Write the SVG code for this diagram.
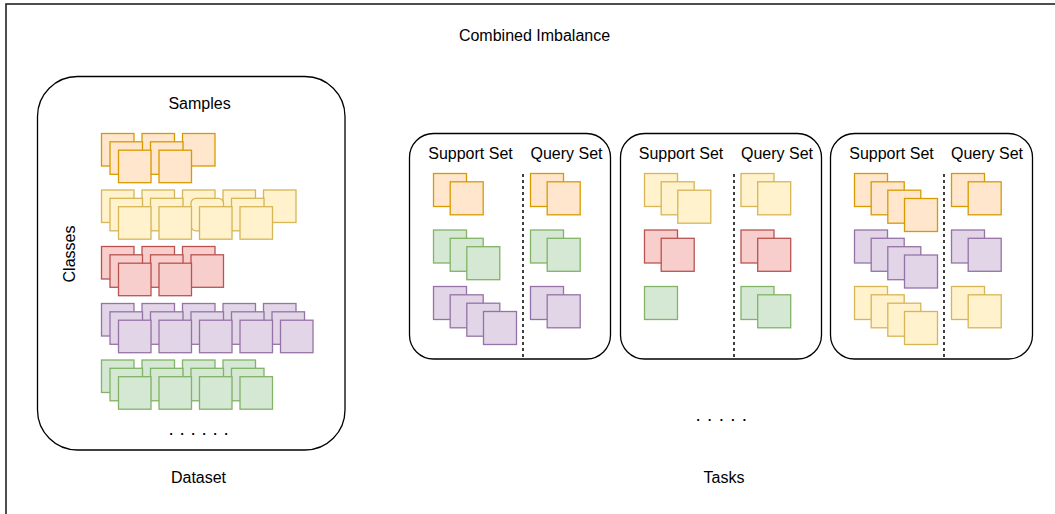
<svg xmlns="http://www.w3.org/2000/svg" width="1055" height="514" viewBox="0 0 1055 514">
<style>
text{font-family:"Liberation Sans",Arial,sans-serif;font-size:16px;fill:#000}
.c{text-anchor:middle}
.dots{font-size:19px}
.box{fill:#fff;stroke:#000;stroke-width:1.3}
.dash{stroke:#000;stroke-width:1.5;stroke-dasharray:3 3;fill:none}
rect.o{fill:#ffe6cc;stroke:#d79b00;stroke-width:1.3}
rect.y{fill:#fff2cc;stroke:#d6b656;stroke-width:1.3}
rect.r{fill:#f8cecc;stroke:#b85450;stroke-width:1.3}
rect.p{fill:#e1d5e7;stroke:#9673a6;stroke-width:1.3}
rect.g{fill:#d5e8d4;stroke:#82b366;stroke-width:1.3}
</style>
<rect width="1055" height="514" fill="#fff"/>
<rect id="frame" x="6" y="4" width="1100" height="560" fill="none" stroke="#222" stroke-width="1.6"/>
<text class="c" x="534.5" y="41">Combined Imbalance</text>

<g id="dataset">
<rect class="box" x="37.5" y="76.5" width="307.5" height="373.5" rx="40"/>
<text class="c" x="199.5" y="109">Samples</text>
<text class="c" transform="translate(75,254) rotate(-90)">Classes</text>
<text class="dots" x="168.5" y="435" style="letter-spacing:5.7px">......</text>
<g id="orange-row">
<rect class="o" x="101.5" y="133.5" width="32.5" height="32.5"/><rect class="o" x="142" y="133.5" width="32.5" height="32.5"/><rect class="o" x="182.5" y="133.5" width="32.5" height="32.5"/>
<rect class="o" x="110" y="141.8" width="32.5" height="32.5"/><rect class="o" x="150.5" y="141.8" width="32.5" height="32.5"/>
<rect class="o" x="118.5" y="150.2" width="32.5" height="32.5"/><rect class="o" x="159" y="150.2" width="32.5" height="32.5"/>
</g>
<g id="yellow-row">
<rect class="y" x="101.5" y="190" width="32.5" height="32.5"/><rect class="y" x="142" y="190" width="32.5" height="32.5"/><rect class="y" x="182.5" y="190" width="32.5" height="32.5"/><rect class="y" x="223" y="190" width="32.5" height="32.5"/><rect class="y" x="263.5" y="190" width="32.5" height="32.5"/>
<rect class="y" x="110" y="198.3" width="32.5" height="32.5"/><rect class="y" x="150.5" y="198.3" width="32.5" height="32.5"/><rect class="y" x="191" y="198.3" width="32.5" height="32.5" rx="5"/><rect class="y" x="231.5" y="198.3" width="32.5" height="32.5"/>
<rect class="y" x="118.5" y="206.7" width="32.5" height="32.5"/><rect class="y" x="159" y="206.7" width="32.5" height="32.5"/><rect class="y" x="199.5" y="206.7" width="32.5" height="32.5"/><rect class="y" x="240" y="206.7" width="32.5" height="32.5"/>
</g>
<g id="red-row">
<rect class="r" x="101.5" y="246.5" width="32.5" height="32.5"/><rect class="r" x="142" y="246.5" width="32.5" height="32.5"/><rect class="r" x="182.5" y="246.5" width="32.5" height="32.5"/>
<rect class="r" x="110" y="254.8" width="32.5" height="32.5"/><rect class="r" x="150.5" y="254.8" width="32.5" height="32.5"/><rect class="r" x="191" y="254.8" width="32.5" height="32.5"/>
<rect class="r" x="118.5" y="263.2" width="32.5" height="32.5"/><rect class="r" x="159" y="263.2" width="32.5" height="32.5"/>
</g>
<g id="purple-row">
<rect class="p" x="101.5" y="303.5" width="32.5" height="32.5"/><rect class="p" x="142" y="303.5" width="32.5" height="32.5"/><rect class="p" x="182.5" y="303.5" width="32.5" height="32.5"/><rect class="p" x="223" y="303.5" width="32.5" height="32.5"/><rect class="p" x="263.5" y="303.5" width="32.5" height="32.5"/>
<rect class="p" x="110" y="311.8" width="32.5" height="32.5"/><rect class="p" x="150.5" y="311.8" width="32.5" height="32.5"/><rect class="p" x="191" y="311.8" width="32.5" height="32.5"/><rect class="p" x="231.5" y="311.8" width="32.5" height="32.5"/><rect class="p" x="272" y="311.8" width="32.5" height="32.5"/>
<rect class="p" x="118.5" y="320.2" width="32.5" height="32.5"/><rect class="p" x="159" y="320.2" width="32.5" height="32.5"/><rect class="p" x="199.5" y="320.2" width="32.5" height="32.5"/><rect class="p" x="240" y="320.2" width="32.5" height="32.5"/><rect class="p" x="280.5" y="320.2" width="32.5" height="32.5"/>
</g>
<g id="green-row">
<rect class="g" x="101.5" y="360" width="32.5" height="32.5"/><rect class="g" x="142" y="360" width="32.5" height="32.5"/><rect class="g" x="182.5" y="360" width="32.5" height="32.5"/><rect class="g" x="223" y="360" width="32.5" height="32.5"/>
<rect class="g" x="110" y="368.3" width="32.5" height="32.5"/><rect class="g" x="150.5" y="368.3" width="32.5" height="32.5"/><rect class="g" x="191" y="368.3" width="32.5" height="32.5"/><rect class="g" x="231.5" y="368.3" width="32.5" height="32.5"/>
<rect class="g" x="118.5" y="376.7" width="32.5" height="32.5"/><rect class="g" x="159" y="376.7" width="32.5" height="32.5"/><rect class="g" x="199.5" y="376.7" width="32.5" height="32.5"/><rect class="g" x="240" y="376.7" width="32.5" height="32.5"/>
</g>
</g>
<text class="c" x="198.5" y="483">Dataset</text>

<g id="task1">
<rect class="box" x="409.5" y="133.5" width="201" height="225.5" rx="24"/>
<text class="c" x="470.5" y="159">Support Set</text>
<text class="c" x="566.5" y="159">Query Set</text>
<rect class="o" x="433.5" y="173.5" width="33" height="33"/><rect class="o" x="450.2" y="181.8" width="33" height="33"/>
<rect class="g" x="433.5" y="230" width="33" height="33"/><rect class="g" x="450.2" y="238.3" width="33" height="33"/><rect class="g" x="466.8" y="246.7" width="33" height="33"/>
<rect class="p" x="433.5" y="286.5" width="33" height="33"/><rect class="p" x="450.2" y="294.8" width="33" height="33"/><rect class="p" x="466.8" y="303.2" width="33" height="33"/><rect class="p" x="483.5" y="311.5" width="33" height="33"/>
<rect class="o" x="530.5" y="173.5" width="33" height="33"/><rect class="o" x="547.2" y="181.8" width="33" height="33"/>
<rect class="g" x="530.5" y="230" width="33" height="33"/><rect class="g" x="547.2" y="238.3" width="33" height="33"/>
<rect class="p" x="530.5" y="286.5" width="33" height="33"/><rect class="p" x="547.2" y="294.8" width="33" height="33"/>
</g>

<g id="task2">
<rect class="box" x="620.5" y="133.5" width="201" height="225.5" rx="24"/>
<text class="c" x="681" y="159">Support Set</text>
<text class="c" x="777" y="159">Query Set</text>
<rect class="y" x="644.5" y="173.5" width="33" height="33"/><rect class="y" x="661.2" y="181.8" width="33" height="33"/><rect class="y" x="677.8" y="190.2" width="33" height="33"/>
<rect class="r" x="644.5" y="230" width="33" height="33"/><rect class="r" x="661.2" y="238.3" width="33" height="33"/>
<rect class="g" x="644.5" y="286.5" width="33" height="33"/>
<rect class="y" x="741" y="173.5" width="33" height="33"/><rect class="y" x="757.7" y="181.8" width="33" height="33"/>
<rect class="r" x="741" y="230" width="33" height="33"/><rect class="r" x="757.7" y="238.3" width="33" height="33"/>
<rect class="g" x="741" y="286.5" width="33" height="33"/><rect class="g" x="757.7" y="294.8" width="33" height="33"/>
</g>

<g id="task3">
<rect class="box" x="830.5" y="133.5" width="202" height="225.5" rx="24"/>
<text class="c" x="891.5" y="159">Support Set</text>
<text class="c" x="987" y="159">Query Set</text>
<rect class="o" x="854.5" y="173.5" width="33" height="33"/><rect class="o" x="871.2" y="181.8" width="33" height="33"/><rect class="o" x="887.8" y="190.2" width="33" height="33"/><rect class="o" x="904.5" y="198.5" width="33" height="33"/>
<rect class="p" x="854.5" y="230" width="33" height="33"/><rect class="p" x="871.2" y="238.3" width="33" height="33"/><rect class="p" x="887.8" y="246.7" width="33" height="33"/><rect class="p" x="904.5" y="255" width="33" height="33"/>
<rect class="y" x="854.5" y="286.5" width="33" height="33"/><rect class="y" x="871.2" y="294.8" width="33" height="33"/><rect class="y" x="887.8" y="303.2" width="33" height="33"/><rect class="y" x="904.5" y="311.5" width="33" height="33"/>
<rect class="o" x="951.5" y="173.5" width="33" height="33"/><rect class="o" x="968.2" y="181.8" width="33" height="33"/>
<rect class="p" x="951.5" y="230" width="33" height="33"/><rect class="p" x="968.2" y="238.3" width="33" height="33"/>
<rect class="y" x="951.5" y="286.5" width="33" height="33"/><rect class="y" x="968.2" y="294.8" width="33" height="33"/>
</g>

<g id="connectors">
<line class="dash" x1="523" y1="174" x2="523" y2="358"/>
<line class="dash" x1="734" y1="174" x2="734" y2="358"/>
<line class="dash" x1="944" y1="174" x2="944" y2="358"/>
</g>

<text class="dots" x="695.5" y="421" style="letter-spacing:6.3px">.....</text>
<text class="c" x="724" y="483">Tasks</text>
</svg>
